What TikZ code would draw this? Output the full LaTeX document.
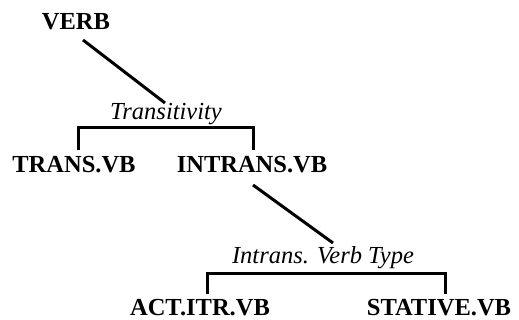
\documentclass[tikz,border=0pt]{standalone}
\usepackage{fontspec}
\setmainfont{Liberation Serif}
\begin{document}
\begin{tikzpicture}[x=1pt,y=-1pt,
  lab/.style={font=\fontsize{24.5}{24.5}\selectfont\bfseries, inner sep=0pt, anchor=base},
  feat/.style={font=\fontsize{24.5}{24.5}\selectfont\itshape, inner sep=0pt, anchor=base},
  edge/.style={line width=3pt, line cap=butt},
  brk/.style={line width=3pt, line join=miter}]
\useasboundingbox (0,0) rectangle (519,320);
\node[lab] (verb) at (76,30) {VERB};
\node[feat] (trans) at (166,120) {Transitivity};
\node[lab] (tvb) at (74,173) {TRANS.VB};
\node[lab] (ivb) at (252,173) {INTRANS.VB};
\node[feat] (ivt) at (323,263) {Intrans. Verb Type};
\node[lab] (act) at (200,315) {ACT.ITR.VB};
\node[lab] (stat) at (439,315) {STATIVE.VB};
% connector end points
\coordinate (v1) at (83,40);
\coordinate (v2) at (165,103);
\coordinate (b1l) at (78,150);
\coordinate (b1r) at (253,150);
\coordinate (b1h) at (0,128);
\coordinate (i1) at (253,185);
\coordinate (i2) at (333,243);
\coordinate (b2l) at (207,294);
\coordinate (b2r) at (445,294);
\coordinate (b2h) at (0,273);
\draw[edge] (v1) -- (v2);
\draw[brk] (b1l) -- (b1l |- b1h) -- (b1r |- b1h) -- (b1r);
\draw[edge] (i1) -- (i2);
\draw[brk] (b2l) -- (b2l |- b2h) -- (b2r |- b2h) -- (b2r);
\end{tikzpicture}
\end{document}
